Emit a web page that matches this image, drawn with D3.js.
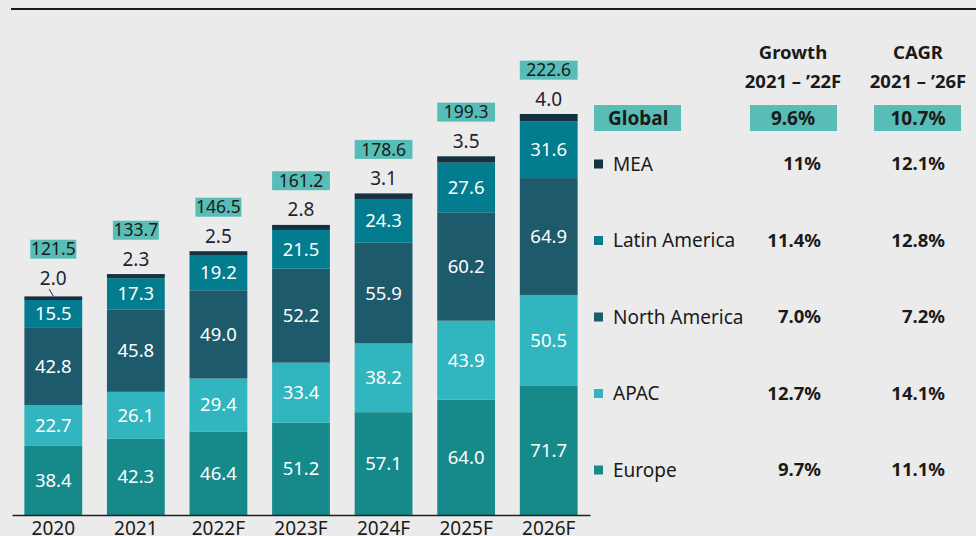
<!DOCTYPE html>
<html>
<head>
<meta charset="utf-8">
<script src="https://cdn.jsdelivr.net/npm/d3@7"></script>
<style>
  body { margin: 0; background: #ebebeb; }
  svg { display: block; font-family: "Noto Sans", sans-serif; }
</style>
</head>
<body>
<div id="chart"></div>
<script>
// data
var years = ["2020", "2021", "2022F", "2023F", "2024F", "2025F", "2026F"];
var regions = ["Europe", "APAC", "North America", "Latin America", "MEA"];
var europe = [38.4, 42.3, 46.4, 51.2, 57.1, 64.0, 71.7];
var apac = [22.7, 26.1, 29.4, 33.4, 38.2, 43.9, 50.5];
var northAmerica = [42.8, 45.8, 49.0, 52.2, 55.9, 60.2, 64.9];
var latinAmerica = [15.5, 17.3, 19.2, 21.5, 24.3, 27.6, 31.6];
var mea = [2.0, 2.3, 2.5, 2.8, 3.1, 3.5, 4.0];
var totals = [121.5, 133.7, 146.5, 161.2, 178.6, 199.3, 222.6];

var legendOrder = ["MEA", "Latin America", "North America", "APAC", "Europe"];
var growth = ["11%", "11.4%", "7.0%", "12.7%", "9.7%"];
var cagr = ["12.1%", "12.8%", "7.2%", "14.1%", "11.1%"];
var globalGrowth = "9.6%";
var globalCagr = "10.7%";

var colors = {
  "Europe": "#16898a",
  "APAC": "#31b5bf",
  "North America": "#1d5a6b",
  "Latin America": "#027c8e",
  "MEA": "#153241"
};
var boxColor = "#58bdb6";

var width = 976, height = 536;
var svg = d3.select("#chart").append("svg")
  .attr("width", width)
  .attr("height", height);

// top rule
svg.append("line")
  .attr("x1", 11).attr("x2", width)
  .attr("y1", 9).attr("y2", 9)
  .attr("stroke", "#1a1a1a")
  .attr("stroke-width", 2);

var table = years.map(function(y, i) {
  return {
    year: y,
    "Europe": europe[i],
    "APAC": apac[i],
    "North America": northAmerica[i],
    "Latin America": latinAmerica[i],
    "MEA": mea[i],
    total: totals[i]
  };
});

var x = d3.scaleBand()
  .domain(years)
  .range([12, 590])
  .paddingInner(0.3)
  .paddingOuter(0.15);

var y = d3.scaleLinear()
  .domain([0, 281])
  .range([515, 9]);

var series = d3.stack().keys(regions)(table);

var layers = svg.selectAll(".layer")
  .data(series)
  .enter().append("g")
  .attr("class", "layer")
  .attr("fill", function(d) { return colors[d.key]; });

layers.selectAll("rect")
  .data(function(d) { return d; })
  .enter().append("rect")
  .attr("x", function(d) { return x(d.data.year); })
  .attr("y", function(d) { return y(d[1]); })
  .attr("width", x.bandwidth())
  .attr("height", function(d) { return y(d[0]) - y(d[1]); });

// white labels inside segments (all but MEA)
series.forEach(function(s) {
  if (s.key === "MEA") return;
  svg.append("g").selectAll("text")
    .data(s)
    .enter().append("text")
    .attr("x", function(d) { return x(d.data.year) + x.bandwidth() / 2; })
    .attr("y", function(d) { return (y(d[0]) + y(d[1])) / 2; })
    .attr("dy", "0.35em")
    .attr("text-anchor", "middle")
    .attr("fill", "#ffffff")
    .style("font-size", "18.5px")
    .text(function(d) { return d.data[s.key].toFixed(1); });
});

// MEA labels above bars, and total boxes
table.forEach(function(d, i) {
  var cx = x(d.year) + x.bandwidth() / 2;
  var top = y(d.total);
  var extra = i === 0 ? 3 : 0;
  svg.append("text")
    .attr("x", cx)
    .attr("y", top - 15 - extra)
    .attr("dy", "0.35em")
    .attr("text-anchor", "middle")
    .attr("fill", "#1f1f33")
    .style("font-size", "19px")
    .text(d["MEA"].toFixed(1));
  if (i === 0) {
    svg.append("line")
      .attr("x1", cx - 4).attr("y1", top - 7)
      .attr("x2", cx).attr("y2", top)
      .attr("stroke", "#1f1f33")
      .attr("stroke-width", 1);
  }
  var bw = i < 3 ? 46 : x.bandwidth();
  var by = top - 44 - extra;
  svg.append("rect")
    .attr("x", cx - bw / 2)
    .attr("y", by - 9.5)
    .attr("width", bw)
    .attr("height", 19)
    .attr("fill", boxColor);
  svg.append("text")
    .attr("x", cx)
    .attr("y", by)
    .attr("dy", "0.35em")
    .attr("text-anchor", "middle")
    .attr("fill", "#1a1a1a")
    .style("font-size", "17.5px")
    .text(d.total.toFixed(1));
});

// x axis
var xAxis = svg.append("g")
  .attr("transform", "translate(0,515)")
  .call(d3.axisBottom(x).tickSize(0).tickSizeOuter(0).tickPadding(7));
xAxis.select(".domain").attr("stroke", "#222").attr("stroke-width", 1.5);
xAxis.selectAll("text")
  .style("font-family", "Noto Sans, sans-serif")
  .style("font-size", "19px")
  .attr("fill", "#1a1a1a");

// right-hand table
var colGrowth = 793, colCagr = 918;
var headers = [
  { x: colGrowth, lines: ["Growth", "2021 \u2013 \u201922F"] },
  { x: colCagr, lines: ["CAGR", "2021 \u2013 \u201926F"] }
];
headers.forEach(function(h) {
  h.lines.forEach(function(line, j) {
    svg.append("text")
      .attr("x", h.x)
      .attr("y", 53 + j * 29)
      .attr("dy", "0.35em")
      .attr("text-anchor", "middle")
      .attr("fill", "#1a1a1a")
      .style("font-size", "18.5px")
      .style("font-weight", "bold")
      .text(line);
  });
});

// global row
var gy = 118;
[[594, 87], [750, 87], [874, 87]].forEach(function(b) {
  svg.append("rect")
    .attr("x", b[0]).attr("y", gy - 13)
    .attr("width", b[1]).attr("height", 26)
    .attr("fill", boxColor);
});
svg.append("text")
  .attr("x", 608).attr("y", gy).attr("dy", "0.35em")
  .attr("fill", "#1a1a1a")
  .style("font-size", "19px").style("font-weight", "bold")
  .text("Global");
[[colGrowth, globalGrowth], [colCagr, globalCagr]].forEach(function(g) {
  svg.append("text")
    .attr("x", g[0]).attr("y", gy).attr("dy", "0.35em")
    .attr("text-anchor", "middle")
    .attr("fill", "#1a1a1a")
    .style("font-size", "19px").style("font-weight", "bold")
    .text(g[1]);
});

// legend rows
var rowY = d3.scalePoint().domain(legendOrder).range([164, 470]);
legendOrder.forEach(function(name, i) {
  var ry = rowY(name);
  svg.append("rect")
    .attr("x", 594).attr("y", ry - 4.5)
    .attr("width", 9).attr("height", 9)
    .attr("fill", colors[name]);
  svg.append("text")
    .attr("x", 613).attr("y", ry).attr("dy", "0.35em")
    .attr("fill", "#1a1a1a")
    .style("font-size", "19px")
    .text(name);
  svg.append("text")
    .attr("x", 821).attr("y", ry).attr("dy", "0.35em")
    .attr("text-anchor", "end")
    .attr("fill", "#1a1a1a")
    .style("font-size", "18.5px").style("font-weight", "bold")
    .text(growth[i]);
  svg.append("text")
    .attr("x", 945).attr("y", ry).attr("dy", "0.35em")
    .attr("text-anchor", "end")
    .attr("fill", "#1a1a1a")
    .style("font-size", "18.5px").style("font-weight", "bold")
    .text(cagr[i]);
});
</script>
</body>
</html>
